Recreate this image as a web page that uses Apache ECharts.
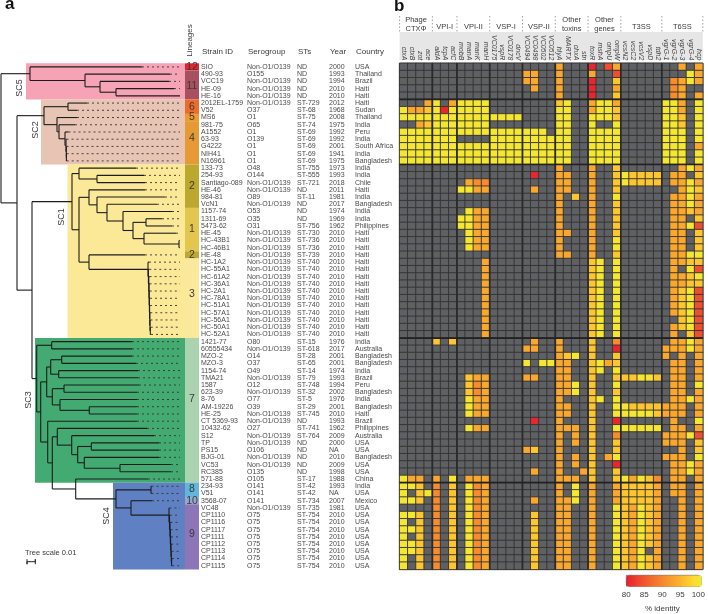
<!DOCTYPE html>
<html><head><meta charset="utf-8">
<style>html,body{margin:0;padding:0;background:#fff}#c{width:708px;height:614px}</style>
<script src="https://cdn.jsdelivr.net/npm/echarts@6/dist/echarts.min.js"></script>
</head><body><div id="c"></div>
<script>
const NON='Non-O1/O139';
const strains=['SIO','490-93','VCC19','HE-09','HE-16','2012EL-1759','V52','MS6','981-75','A1552','63-93','G4222','NIH41','N16961','133-73','254-93','Santiago-089','HE-46','984-81','VcN1','1157-74','1311-69','5473-62','HE-45','HC-43B1','HC-46B1','HE-48','HC-1A2','HC-55A1','HC-61A2','HC-36A1','HC-2A1','HC-78A1','HC-51A1','HC-57A1','HC-56A1','HC-50A1','HC-52A1','1421-77','60555434','MZO-2','MZO-3','1154-74','TMA21','1587','623-39','8-76','AM-19226','HE-25','CT 5369-93','10432-62','S12','TP','PS15','BJG-01','VC53','RC385','571-88','234-93','V51','3568-07','VC48','CP1110','CP1116','CP1117','CP1111','CP1112','CP1113','CP1114','CP1115'];
const serogroups=[NON,'O155',NON,NON,NON,NON,'O37','O1','O65','O1','O139','O1','O1','O1','O48','O144',NON,NON,'O89',NON,'O53','O35','O31',NON,NON,NON,NON,NON,NON,NON,NON,NON,NON,NON,NON,NON,NON,NON,'O80',NON,'O14','O37','O49',NON,'O12',NON,'O77','O39',NON,NON,'O27',NON,NON,'O106',NON,NON,'O135','O105','O141','O141','O141',NON,'O75','O75','O75','O75','O75','O75','O75','O75'];
const sts=['ND','ND','ND','ND','ND','ST-729','ST-68','ST-75','ST-74','ST-69','ST-69','ST-69','ST-69','ST-69','ST-755','ST-555','ST-721','ND','ST-11','ND','ND','ND','ST-756','ST-730','ST-736','ST-736','ST-739','ST-740','ST-740','ST-740','ST-740','ST-740','ST-740','ST-740','ST-740','ST-740','ST-740','ST-740','ST-15','ST-618','ST-28','ST-65','ST-14','ST-79','ST-748','ST-32','ST-5','ST-29','ST-745','ND','ST-741','ST-764','ND','ND','ND','ND','ND','ST-17','ST-42','ST-42','ST-734','ST-735','ST-754','ST-754','ST-754','ST-754','ST-754','ST-754','ST-754','ST-754'];
const years=['2000','1993','1994','2010','2010','2012','1968','2008','1975','1992','1992','2001','1941','1975','1973','1993','2018','2011','1981','2017','1974','1969','1962','2010','2010','2010','2010','2010','2010','2010','2010','2010','2010','2010','2010','2010','2010','2010','1976','2017','2001','2001','1974','1993','1994','2002','1976','2001','2010','1993','1962','2009','2000','NA','2010','2009','1998','1988','1993','NA','2007','1981','2010','2010','2010','2010','2010','2010','2010','2010'];
const countries=['USA','Thailand','Brazil','Haiti','Haiti','Haiti','Sudan','Thailand','India','Peru','India','South Africa','India','Bangladesh','India','India','Chile','Haiti','India','Bangladesh','India','India','Philippines','Haiti','Haiti','Haiti','Haiti','Haiti','Haiti','Haiti','Haiti','Haiti','Haiti','Haiti','Haiti','Haiti','Haiti','Haiti','India','Australia','Bangladesh','Bangladesh','India','Brazil','Peru','Bangladesh','India','Bangladesh','Haiti','Brazil','Philippines','Australia','USA','USA','Bangladesh','USA','USA','China','India','USA','Mexico','USA','USA','USA','USA','USA','USA','USA','USA','USA'];

const geneGroups=['Phage\nCTXΦ','VPI-I','VPI-II','VSP-I','VSP-II','Other\ntoxins','Other\ngenes','T3SS','T6SS'];
const groupSizes=[4,3,4,4,4,4,4,5,5];
const genes=['ctxA','ctxB','zot','ace','aldA','tcpA','acfC','mobB','manA','manK','manH','VC0175','vspR','VC0178','dncV','VC0494','VC0498','VC0502','VC0512','hlyA','MARTX','chxA','stn','toxR','mshA','ompU','ompW','vcsN2','vcsC2','vcsV2','vspD','tdh2','vgrG-1','vgrG-2','vgrG-3','vgrG-4','hcp'];
const rowBreaks=[5,14,38,58];

// % identity classes ('.' = gene absent)
const identity={'.':0,X:80.5,R:84,D:90,O:93,G:96,Y:99.5};
const heatRows=[
'.... ... .... .... .... O... X.RO ..... ..O.O',
'.... ... .... .... OO.. O... O..R ..... ...YO',
'.... ... .... .... OO.. O... X..G ..... .DOYO',
'.... ... .... .... .O.. O... X..O ..... .DO..',
'.... ... .... .... .... O... X..G ..... .DO.O',
'...O Y.O YYYY .... .... GY.. OYYO ..... YYO.Y',
'YOOG YXY YYYY .... .... YY.. OYYG ..... YYO.Y',
'YYYY YYY YYYY YYYY .... YY.. YYYG ..... YYG.Y',
'..OG YYY YYYY .... .... YY.. Y..Y ..... YYG.Y',
'YYYY YYY YYYY YYYY YYY. YY.. YYYY ..... YYY.Y',
'YYYY YYY .... YYYY YYYY YY.. YYYY ..... YYY.Y',
'YYYY YYY YYYY YYYY YYYY YY.. YYYY ..... YYY.O',
'YYYY YYY YYYY YYYY YYYY YY.. YYYY ..... YYY.Y',
'YYYY YYY YYYY YYYY YYYY YY.. YYYY ..... YYY.Y',
'.... ... .... .... .... O... O..G ..... ..OYO',
'.... ... .... .... .X.. OO.. O..G YGGGG .OO.G',
'.... ... .ODD .... .... OO.. O..G YGGGG .OOYO',
'.... ... YYOO .... .O.. OO.. O..G ..... ..OYG',
'.... ... .... .... .... O.G. O..Y ..... .OOYO',
'.... ... .... .... .... O... O..G ..... .OOYO',
'.... ... .YOO .... .... O... O..G ..... .OOGO',
'.... ... YYOO .... .... O... O..G ..... .OO.G',
'.... ... YYOO .... .... O... O..G ..... .OOYR',
'.... ... .YOO .... .... OO.. O..G ..... .OO.G',
'.... ... .YOO .... .... O... O..Y ..... .OO.G',
'.... ... .YOO .... .... O... O..Y ..... .OO.G',
'.... ... .... .... .... OO.. O..G ..... .OOYY',
'.... ... ...O .... .... .... GY.Y ..... .OOGG',
'.... ... ...O .... .... .... GY.Y ..... .O.YR',
'.... ... ...O .... .... .... GY.Y ..... .OOGY',
'.... ... ...O .... .... .... GY.Y ..... .OOGG',
'.... ... ...O .... .... .... GY.Y ..... .OGYR',
'.... ... ...O .... .... .... GY.Y ..... .OGYR',
'.... ... ...O .... .... .... GY.Y ..... .OGYR',
'.... ... ...O .... .... .... GY.Y ..... .OGYR',
'.... ... ...O .... .... .... GY.Y ..... ..GYR',
'.... ... ...O .... .... .... GY.Y ..... .OGYR',
'.... ... ...O .... .... .... GY.Y ..... .O.GR',
'.... G.G .... .... .O.. O... G..D ..... .OOYO',
'.... ... .... .... OO.. O... G..X ..... OOOYO',
'.... ... .... .... .... OGY. G..G ..... O.O.O',
'.... ... .... .... Y.YY OO.. GYOG ..... .OO.O',
'.... ... .... .... .... OO.. GY.Y ..... .OO.O',
'.... ... .GOO .... OO.. OO.. G..G GGYYG .OO.O',
'.... ... .GDO .... .... OOY. G..Y ..... .OO.Y',
'.... ... .GDO .... .... OOY. G..G ..... .OO.O',
'.... ... .YOO .... .... O... GY.Y ..... .OOYO',
'.... ... .YOO .... .... OO.. G..Y YGGGG OOO.O',
'.... ... .YOO .... .... OO.. G..Y YYYYG OOO.O',
'.... ... .... .... .X.. O... G..X ..... .O..Y',
'.... ... .YOO .... .... OOO. G..Y YYYYY .OO.O',
'.... ... .... .... .... O.O. G..D ..... OOOYR',
'.... ... .... .... .... O.O. G..G ..... OOO.G',
'.... ... .... .... OG.. O... G..G ..... ..O.G',
'.... ... .... .... .... O.O. G.OY ..... OOO.Y',
'.... ... .... .... .... O.O. G..X ..... .OOYO',
'.... ... .... .... .O.. O..O G..G ..... .OOYO',
'YOO. O.Y .OOO .... .... OOO. G..G YOYGD .OO.O',
'YYG. D.G .YDO .... .... O.Y. O..O GGGGO .OO.O',
'Y.GY D.G .YDO .... .... O.Y. O..O GGGGO .OO.O',
'YYG. D.G .YDO .... .O.. OOY. O..O GGGGO ..O.O',
'.... D.G .YDO .... .... OO.. O..Y GOYGO ..O.O',
'YYG. D.G .YDO .... .G.. OO.. O..Y GOYGO ..O.O',
'Y.G. D.G .YDO .... .G.. OO.. O..Y GOYGO ..O.O',
'YYG. D.G .YDO .... .G.. OO.. O..Y GOYGO ..O.O',
'Y.G. D.G .YDO .... .G.. OO.. O..Y GOYGO ..O.O',
'YYG. D.G .YDO .... .G.. OO.. O..Y GOYGO ..O.O',
'YYG. D.G .YDO .... .G.. OO.. O..Y GOY.O ..O.O',
'Y.G. D.G .YDO .... .G.. OO.. O..Y GOYGO ..O.O',
'Y.G. D.G .YDO .... .G.. OO.. O..Y GOYGO ..O.O'
];

// phylogeny: [node depth, ...children]; a plain number is a leaf tip depth, leaves run in strain order
const sc5Tree=[30,142,[85,170,[100,169,[116,174,180]]]];
const sc2Tree=[44,[68,87,77],[57,77,[59,75,[65,68.5,[66,66.5,[66.3,66.5,[66.4,66.6,66.7]]]]]]];
const hcTree=[148,149,[148.4,149.3,[148.8,149.6,[149,149.6,[149.2,149.8,[149.4,150,[149.6,150,[149.8,150.3,[150,150.5,[150.3,150.8,151]]]]]]]]]];
const sc1Tree=[72,[79,136,[97,144,145]],[79,[89,145,[97,165,[107,157,[123,172,[133,[146,162,172],[144,176,[179,179.5,179.5]]]]]]],[89,145,hcTree]]];
const sc4Tree=[116,[151,151.5,151.5],[131,152,[169,169.5,[169.5,170,[170,170.5,[170.3,170.6,[170.6,171,[171,171.3,[171.3,171.6,[171.6,172,172.2]]]]]]]]]];
const sc3Upper=[46.7,[50.7,[61.7,132,136],[58.7,138,138]],[52.3,[64,139,137],[60,137,[89.3,137,137]]]];
const sc3Lower=[47.7,137,[52.3,[57.3,147,[71.7,154,[77.7,[91.3,159,159],[84.3,159,[120,171,171]]]]],[75.7,148,sc4Tree]]];
const sc3Tree=[36.7,[51.7,132,132],[40.7,sc3Upper,sc3Lower]];
const fullTree=[1,sc5Tree,[17,sc2Tree,[32,sc1Tree,sc3Tree]]];

// clades: name, first row, last row, left depth, colour
const clades=[['SC5',0,4,26,'#f6a3b5'],['SC2',5,13,41,'#e8c4b4'],['SC1',14,37,67.5,'#fce998'],['SC3',38,57,35,'#43ab72'],['SC4',58,69,113,'#5f80c2']];
// lineages: label, first row, last row, label row, colour
const lineages=[['12',0,0,0,'#e0252e'],['11',1,4,2.6,'#a8505f'],['6',5,6,5.5,'#ec6a2b'],['5',7,7,7,'#ee9a2f'],['4',8,13,9.8,'#e59a34'],['2',14,19,16.5,'#bda82f'],['1',20,25,22.5,'#e2c64e'],['2',26,26,26,'#bda82f'],['3',27,37,31.4,'#fae99b'],['7',38,57,46,'#abd3b0'],['8',58,59,58.4,'#61b6da'],['10',60,60,60,'#93a8d0'],['9',61,69,64.6,'#8c76b7']];

const colorStops=['#e8202e','#ea352e','#ee4f2e','#f1632e','#f4782e','#f68c2e','#f99f2d','#fbb12d','#fdc52e','#fadd2f','#f3ea30'];
const identityTicks=[80,100,5];
const tableX=[201,247,297,329,355];
const tableHeads=['Strain ID','Serogroup','STs','Year','Country'];

/* ---------- derived ---------- */
const segs=[],leaders=[];let nextRow=0;
function walk(n,px){
  if(typeof n==='number'){const r=nextRow++;segs.push([px,r,n,r]);leaders.push([n,r,180,r]);return r;}
  const x=n[0],ys=n.slice(1).map(k=>walk(k,x));
  const a=ys[0],b=ys[ys.length-1],y=(a+b)/2;
  segs.push([x,a,x,b]);
  if(px!=null)segs.push([px,y,x,y]);
  return y;
}
walk(fullTree,null);

const heatData=[];
heatRows.forEach((s,r)=>{s.replace(/ /g,'').split('').forEach((c,k)=>heatData.push([k,r,identity[c]]));});
const colBreaks=[];groupSizes.reduce((t,n)=>{const e=t+n;if(e<genes.length)colBreaks.push(e);return e;},0);

const FONT='"Liberation Sans",Arial,sans-serif',INK='#3a3a3a';
const TOP=63.3,H=506.1,LEFT=399.6,W=303.2,CW=W/genes.length;
const lineSeries=(data,style,z)=>({type:'custom',coordinateSystem:'cartesian2d',xAxisIndex:0,yAxisIndex:0,silent:true,clip:false,z,data,
  renderItem:(p,api)=>{const a=api.coord([api.value(0),api.value(1)]),b=api.coord([api.value(2),api.value(3)]);
    return {type:'line',shape:{x1:a[0],y1:a[1],x2:b[0],y2:b[1]},style:Object.assign({fill:null},style)};}});
const rectSeries=(rows,getL,getR,z,withText)=>({type:'custom',xAxisIndex:0,yAxisIndex:0,silent:true,clip:false,z,
  data:rows.map((r,i)=>[i,r[1],r[2]]),
  renderItem:(p,api)=>{const d=rows[api.value(0)];
    const a=api.coord([getL(d),d[1]-.5]),b=api.coord([getR(d),d[2]+.5]);
    const kids=[{type:'rect',shape:{x:a[0],y:a[1],width:b[0]-a[0],height:b[1]-a[1]},style:{fill:d[4]}}];
    if(withText){const c=api.coord([(getL(d)+getR(d))/2,d[3]]);
      kids.push({type:'text',style:{text:d[0],x:c[0],y:c[1],align:'center',verticalAlign:'middle',fontSize:10.5,fontFamily:FONT,fill:'#3a3a3a'}});}
    return {type:'group',children:kids};}});

const tableAxes=[strains,serogroups,sts,years,countries].map((col,i)=>({
  type:'category',gridIndex:0,position:'right',offset:tableX[i]-199,inverse:true,data:col,
  axisLine:{show:false},axisTick:{show:false},splitLine:{show:false},
  axisLabel:{interval:0,margin:0,fontSize:7,fontFamily:FONT,color:'#4a4a4a'}}));

const T=(text,x,y,o)=>({type:'text',silent:true,style:Object.assign({text,x,y,fontFamily:FONT,fontSize:8,fill:INK,align:'center',verticalAlign:'middle'},o||{})});
const R90=(text,x,y,o)=>({type:'text',silent:true,x,y,rotation:Math.PI/2,style:Object.assign({text,x:0,y:0,fontFamily:FONT,fontSize:9,fill:INK,align:'center',verticalAlign:'middle'},o||{})});

const gfx=[
  T('a',5,4.5,{fontSize:17,fontWeight:'bold',fill:'#111',align:'left'}),
  T('b',394,6,{fontSize:17,fontWeight:'bold',fill:'#111',align:'left'}),
  R90('Lineages',190,40.5,{fontSize:8}),
  {type:'rect',silent:true,z:-1,shape:{x:LEFT,y:32,width:W,height:28},style:{fill:'#e6e6e6'}}
];
tableHeads.forEach((h,i)=>gfx.push(T(h,tableX[i]+1,52,{align:'left'})));
[['SC5',20,88],['SC2',35.7,130],['SC1',62,217],['SC3',29,400],['SC4',107,516]].forEach(a=>gfx.push(Object.assign(R90(a[0],a[1],a[2]),{z:5})));
gfx.push(T('Tree scale 0.01',25,552.7,{align:'left',fontSize:7.5}));
gfx.push({type:'polyline',silent:true,shape:{points:[[27,559.2],[27,564.2],[27,561.7],[35.3,561.7],[35.3,559.2],[35.3,564.2]]},style:{stroke:'#222',lineWidth:1,fill:null}});
let cum=0;
groupSizes.forEach((n,i)=>{
  const c=LEFT+(cum+n/2)*CW,two=geneGroups[i].includes('\n');
  gfx.push(T(geneGroups[i],c,two?24.5:27,{fontSize:7.5,lineHeight:9.5}));
  cum+=n;
});
[0].concat(colBreaks,[genes.length]).forEach(k=>{const x=LEFT+k*CW;
  gfx.push({type:'line',silent:true,shape:{x1:x,y1:16,x2:x,y2:32},style:{stroke:'#8a8a8a',lineWidth:.8,lineDash:[1.5,2]}});});

const option={
  animation:false,backgroundColor:'#fff',
  grid:[
    {left:1,top:TOP,width:198,height:H,containLabel:false},
    {left:LEFT,top:TOP,width:W,height:H,show:true,backgroundColor:'#5f6064',borderColor:'#333',borderWidth:1},
    {left:626.3,top:575.3,width:75.4,height:11.4,show:true,backgroundColor:'transparent',borderColor:'#666',borderWidth:.8}
  ],
  xAxis:[
    {type:'value',gridIndex:0,min:1,max:199,show:false},
    {type:'category',gridIndex:1,position:'top',data:genes,axisLine:{show:false},axisTick:{show:false},splitLine:{show:false},
     axisLabel:{interval:0,rotate:90,margin:3,fontSize:7,fontStyle:'italic',fontFamily:FONT,color:'#444'}},
    {type:'value',gridIndex:2,min:identityTicks[0],max:identityTicks[1],interval:identityTicks[2],position:'bottom',offset:2.5,
     name:'% identity',nameLocation:'middle',nameGap:20,nameTextStyle:{fontSize:8,fontFamily:FONT,color:INK},
     axisLine:{lineStyle:{color:'#555',width:.8}},axisTick:{length:4,lineStyle:{color:'#555',width:.8}},splitLine:{show:false},
     axisLabel:{margin:6,fontSize:8,fontFamily:FONT,color:INK,showMinLabel:true,showMaxLabel:true}}
  ],
  yAxis:[
    {type:'value',gridIndex:0,min:-.5,max:69.5,inverse:true,show:false},
    ...tableAxes,
    {type:'category',gridIndex:1,inverse:true,data:strains,show:false},
    {type:'value',gridIndex:2,min:0,max:1,show:false}
  ],
  visualMap:{type:'continuous',seriesIndex:0,min:80,max:100,range:[80.01,100],orient:'horizontal',left:626.3,top:575.3,padding:0,
    itemWidth:11.4,itemHeight:75.4,calculable:false,hoverLink:false,realtime:false,
    inRange:{color:colorStops},outOfRange:{color:'#5f6064'}},
  series:[
    {type:'heatmap',xAxisIndex:1,yAxisIndex:6,data:heatData,silent:true,progressive:0,z:2,
     itemStyle:{borderColor:'#333',borderWidth:.9},emphasis:{disabled:true}},
    {type:'custom',xAxisIndex:1,yAxisIndex:6,silent:true,clip:false,z:4,
     data:colBreaks.map(k=>[k-.5,0]),
     renderItem:(p,api)=>{const s=api.size([1,1]),c=api.coord([api.value(0)+.5,0]),x=c[0]-s[0]/2;
       return {type:'line',shape:{x1:x,y1:TOP,x2:x,y2:TOP+H},style:{stroke:'#2a2a2a',lineWidth:1.7}};}},
    {type:'custom',xAxisIndex:1,yAxisIndex:6,silent:true,clip:false,z:4,
     data:rowBreaks.map(r=>[0,r]),
     renderItem:(p,api)=>{const s=api.size([1,1]),c=api.coord([0,api.value(1)]),y=c[1]-s[1]/2;
       return {type:'line',shape:{x1:LEFT,y1:y,x2:LEFT+W,y2:y},style:{stroke:'#222',lineWidth:1.7}};}},
    rectSeries(clades,d=>d[3],()=>185,1,false),
    rectSeries(lineages,()=>185,()=>199,1,true),
    lineSeries(leaders,{stroke:'#333',lineWidth:.9,lineDash:[2,3]},2),
    lineSeries(segs,{stroke:'#1c1c1c',lineWidth:1.1},3),
    {type:'scatter',xAxisIndex:2,yAxisIndex:7,data:[],silent:true}
  ],
  graphic:gfx
};
const chart=echarts.init(document.getElementById('c'),null,{renderer:'canvas'});
chart.setOption(option);
</script></body></html>
